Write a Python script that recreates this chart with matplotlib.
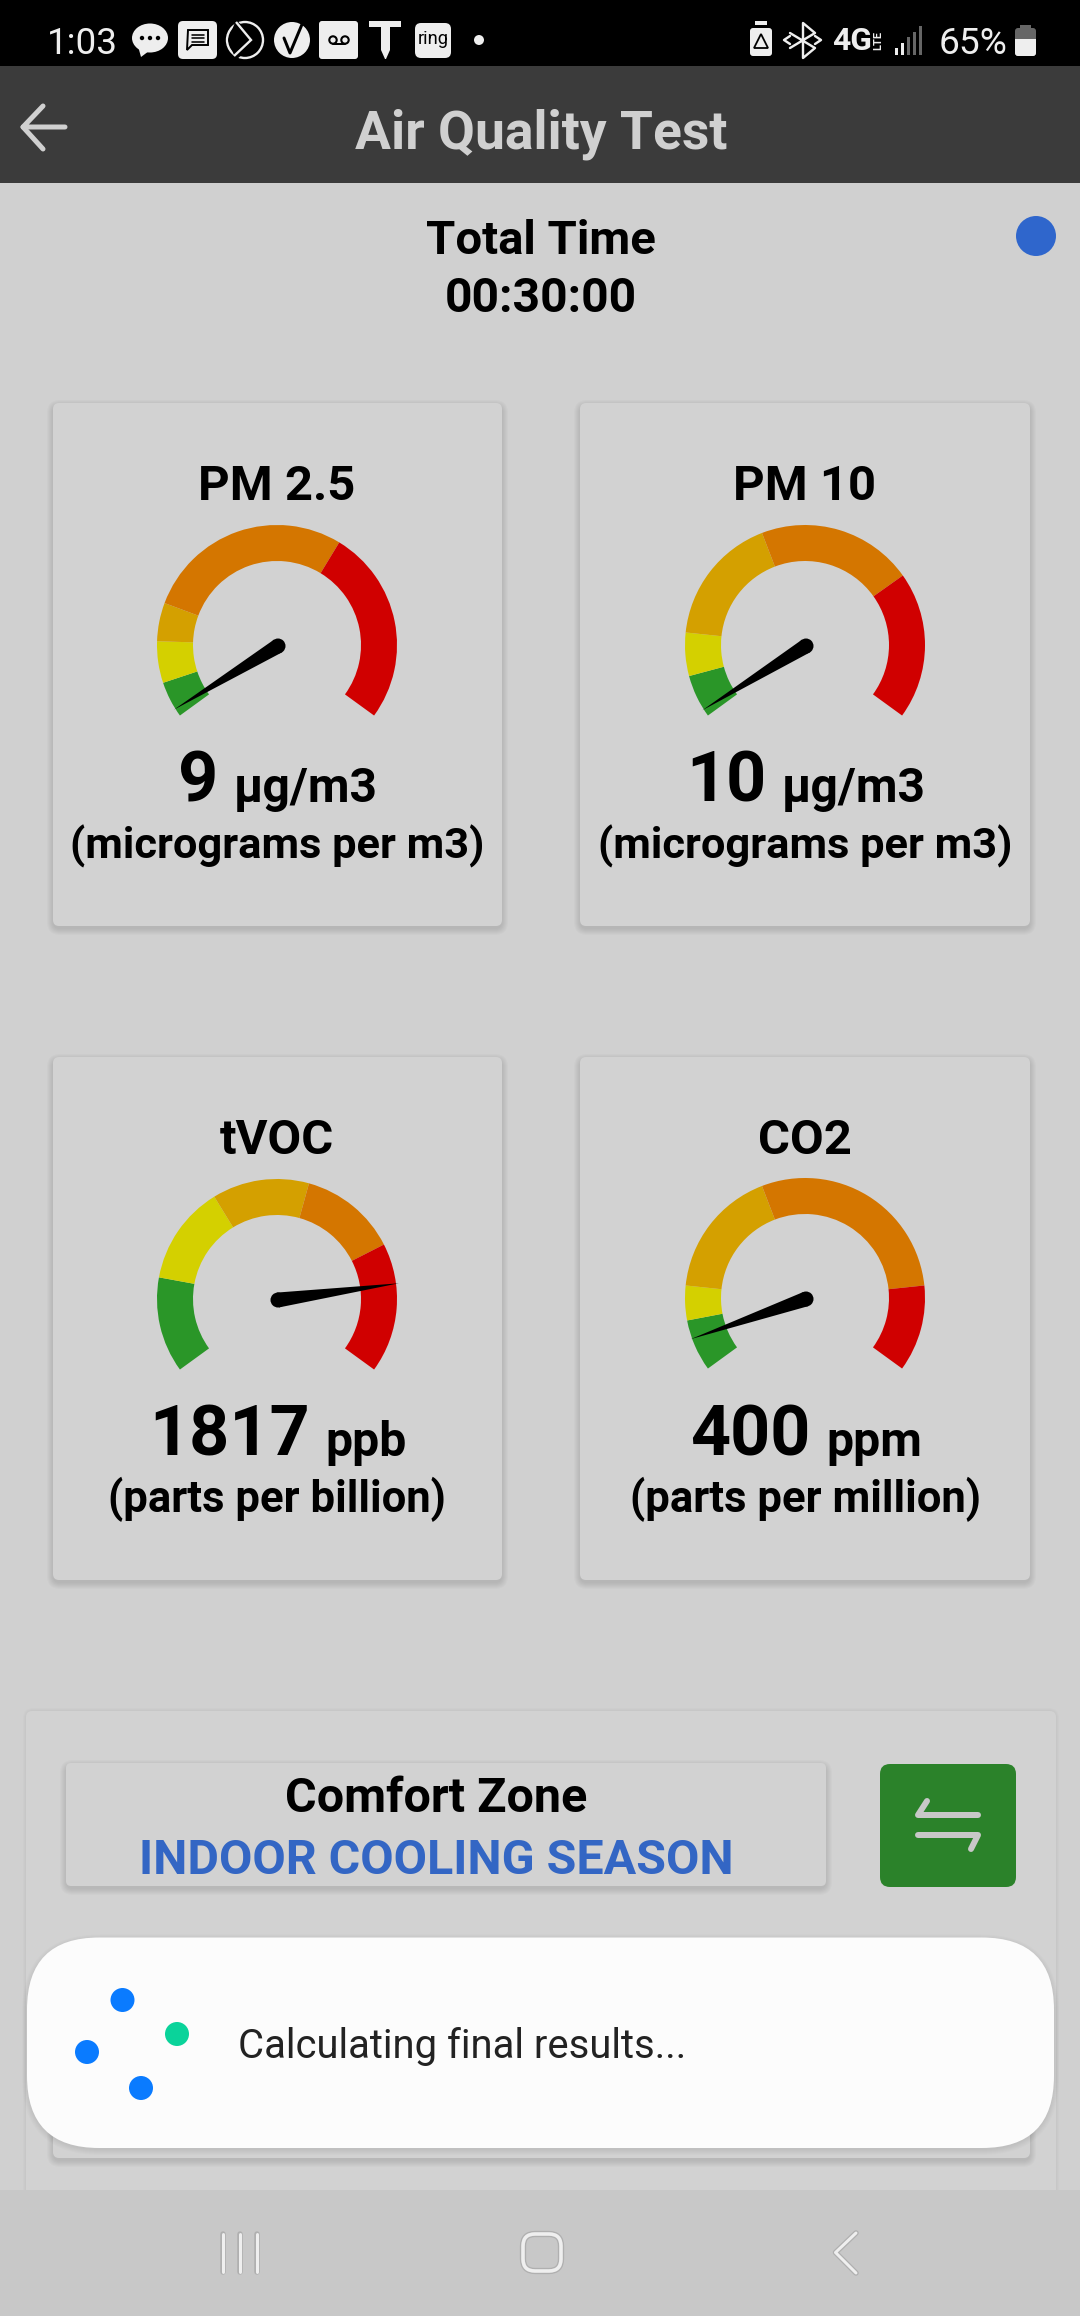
import numpy as np
import matplotlib
matplotlib.use("Agg")
import matplotlib.pyplot as plt
from matplotlib.patches import Wedge, Circle, Polygon, FancyBboxPatch, Rectangle, Ellipse

# ---------- data ----------
gauge_names = ["PM 2.5", "PM 10", "tVOC", "CO2"]
gauge_readings = [9, 10, 1817, 400]
gauge_units = ["µg/m3", "µg/m3", "ppb", "ppm"]
gauge_unit_names = ["(micrograms per m3)", "(micrograms per m3)",
                    "(parts per billion)", "(parts per million)"]
gauge_limits = [
    [35, 75, 112, 312, 500],
    [50, 100, 250, 430, 600],
    [405, 825, 1235, 1650, 2200],
    [600, 1000, 2500, 5000, 6000],
]
band_colors = ["#2A9628", "#D4D000", "#D4A000", "#D47600", "#D00000"]
title_text = "Air Quality Test"
timer_label = "Total Time"
timer_value = "00:30:00"
zone_label = "Comfort Zone"
zone_value = "INDOOR COOLING SEASON"
toast_text = "Calculating final results..."
clock_text = "1:03"
battery_text = "65%"

W, H = 1080, 2316
BG = "#D0D0D0"
CARD = "#D2D2D2"
FONT = "Roboto"

fig = plt.figure(figsize=(W / 100, H / 100), dpi=100, facecolor=BG)
ax = fig.add_axes([0, 0, 1, 1])
ax.set_xlim(0, W)
ax.set_ylim(0, H)
ax.axis("off")
renderer = fig.canvas.get_renderer()


def Y(py):
    return H - py


def box(x0, y0, x1, y1, color, radius=6, z=2, ec="none", lw=0):
    p = FancyBboxPatch((x0, Y(y1)), x1 - x0, y1 - y0,
                       boxstyle=f"round,pad=0,rounding_size={radius}",
                       fc=color, ec=ec, lw=lw, zorder=z)
    ax.add_patch(p)
    return p


def shadow(x0, y0, x1, y1, radius=6, z=1.5, dy=3, spread=7, alpha=0.014):
    for i in range(spread, 0, -1):
        p = box(x0 - i + 1, y0 - i + 1 + dy, x1 + i - 1, y1 + i - 1 + dy, "black", radius + i, z)
        p.set_alpha(alpha)


def text(x, y, s, px, color="black", weight="bold", ha="center", width=None, **kw):
    t = ax.text(x, Y(y), s, fontsize=px * 0.72, color=color, ha=ha, va="baseline",
                family=FONT, fontweight=weight, zorder=kw.pop("zorder", 6), **kw)
    if width is not None:
        cur = t.get_window_extent(renderer).width
        t.set_fontsize(t.get_fontsize() * width / cur)
    return t


def stroke(xs, ys, color, lw_px, z=6):
    ax.plot(xs, [Y(v) for v in ys], color=color, lw=lw_px * 0.72,
            solid_capstyle="round", solid_joinstyle="round", zorder=z)


def gauge(cx, cy, limits, reading):
    top = limits[-1]
    angle = lambda v: 216 - 252 * v / top
    lo = 0
    for hi, col in zip(limits, band_colors):
        ax.add_patch(Wedge((cx, Y(cy)), 120, angle(hi), angle(lo), width=36,
                           fc=col, ec="none", zorder=3))
        lo = hi
    a = np.deg2rad(angle(reading))
    r_tip, r_head = 122, 7.5
    ux, uy = np.cos(a), np.sin(a)
    px_, py_ = -uy, ux
    c = np.array([cx + 1, Y(cy + 1)])
    tip = c + r_tip * np.array([ux, uy])
    ax.add_patch(Polygon([c + r_head * np.array([px_, py_]), tip,
                          c - r_head * np.array([px_, py_])],
                         closed=True, fc="black", ec="none", zorder=4))
    ax.add_patch(Circle(c, r_head, fc="black", ec="none", zorder=4))


# ---------- chrome ----------
ax.add_patch(Rectangle((0, Y(66)), W, 66, fc="black", ec="none", zorder=8))
ax.add_patch(Rectangle((0, Y(183)), W, 117, fc="#3B3B3B", ec="none", zorder=8))
text(541, 148, title_text, 54, color="#D0D0D0", weight="bold", width=372, zorder=9)
stroke([65, 23, 43], [127, 127, 106], "#D0D0D0", 5, z=9)
stroke([23, 43], [127, 149], "#D0D0D0", 5, z=9)

text(540.5, 254, timer_label, 48, width=230)
text(540.5, 312, timer_value, 46, width=192)
ax.add_patch(Circle((1036, Y(236)), 20, fc="#2F66CC", ec="none", zorder=6))

# ---------- cards ----------
card_boxes = [(53, 403, 502, 926), (580, 403, 1030, 926),
              (53, 1057, 502, 1580), (580, 1057, 1030, 1580)]
centers = [(277, 645), (805, 645), (277, 1299), (805, 1298)]
sub_widths = [414, 414, 338, 351]
for (x0, y0, x1, y1), (cx, cy), name, val, unit, uname, lim, sw in zip(
        card_boxes, centers, gauge_names, gauge_readings, gauge_units,
        gauge_unit_names, gauge_limits, sub_widths):
    shadow(x0, y0, x1, y1)
    box(x0, y0, x1, y1, CARD, 6)
    text(cx, y0 + 97, name, 49)
    gauge(cx, cy, lim, val)
    base = y0 + 399
    big = text(0, base, str(val), 70, ha="left")
    small = text(0, base, unit, 48, ha="left", weight="bold")
    w1 = big.get_window_extent(renderer).width
    w2 = small.get_window_extent(renderer).width
    gap = 16
    left = cx + 1 - (w1 + gap + w2) / 2
    big.set_x(left)
    small.set_x(left + w1 + gap)
    text(cx, y0 + 455, uname, 44, weight="bold", width=sw)

# ---------- comfort zone ----------
shadow(26, 1711, 1056, 2300, radius=6, spread=4, dy=0, alpha=0.01)
box(26, 1711, 1056, 2300, CARD, 6)
shadow(66, 1763, 826, 1886, z=2.5)
box(66, 1763, 826, 1886, CARD, 5, z=3)
text(436.5, 1812.5, zone_label, 46, width=302)
text(436, 1873.5, zone_value, 46, color="#3366C4", width=595)
box(880, 1764, 1016, 1887, "#2B822A", 10, z=3)
stroke([927, 918, 978], [1801, 1815, 1815], "#C8C8C8", 6)
stroke([918, 978, 971], [1835, 1835, 1849], "#C8C8C8", 6)

shadow(53, 2000, 1030, 2158, z=2.5)
box(53, 2000, 1030, 2158, CARD, 6, z=3)

# ---------- toast ----------
shadow(27, 1937.5, 1054, 2148, radius=72, z=6.5, dy=2, spread=6, alpha=0.012)
box(27, 1937.5, 1054, 2148, "#FCFCFC", 72, z=7)
for (dx, dy), col in zip([(122.5, 2000), (177, 2034), (87, 2052), (141, 2088)],
                         ["#0A7BFF", "#0AD39A", "#0A7BFF", "#0A7BFF"]):
    ax.add_patch(Circle((dx, Y(dy)), 12, fc=col, ec="none", zorder=8))
text(238, 2058, toast_text, 40, color="#222222", weight="normal", ha="left", width=449, zorder=8)

# ---------- nav bar ----------
ax.add_patch(Rectangle((0, 0), W, H - 2190, fc="#C8C8C8", ec="none", zorder=9))
NAV = "#EFEFEF"
for x in (222.5, 239.5, 256.5):
    stroke([x, x], [2234, 2272], "#B0B0B0", 5.5, z=10)
    stroke([x, x], [2234, 2272], NAV, 3, z=10)
box(523, 2234, 561, 2271, "none", 12, z=10, ec="#B0B0B0", lw=4.5)
box(523, 2234, 561, 2271, "none", 12, z=10, ec=NAV, lw=2.6)
stroke([856, 835.5, 856], [2233, 2252.5, 2273], "#B0B0B0", 5.5, z=10)
stroke([856, 835.5, 856], [2233, 2252.5, 2273], NAV, 3, z=10)

# ---------- status bar ----------
IC = "#EEEEEE"
Z = 10
text(47, 54, clock_text, 38, color=IC, weight="normal", ha="left", width=71, zorder=Z)
# speech bubble
ax.add_patch(Ellipse((150, Y(38)), 36, 29, fc=IC, ec="none", zorder=Z))
ax.add_patch(Polygon([(138, Y(46)), (149, Y(51)), (141, Y(57))], fc=IC, ec="none", zorder=Z))
for x in (142, 150, 158):
    ax.add_patch(Circle((x, Y(38)), 2.2, fc="black", ec="none", zorder=Z + 1))
# message
box(178, 21, 217, 59, IC, 5, z=Z)
ax.add_patch(Polygon([(188, Y(30)), (208, Y(30)), (208, Y(45)), (192, Y(45)), (187, Y(50))],
                     fc="none", ec="black", lw=1.4, zorder=Z + 1))
for y in (34.5, 38, 41.5):
    stroke([192, 204], [y, y], "black", 1.6, z=Z + 1)
# chevron circle
ax.add_patch(Circle((245, Y(40)), 18, fc="none", ec=IC, lw=1.7, zorder=Z))
ax.add_patch(Polygon([(236, Y(20)), (259, Y(40)), (236, Y(60)), (228, Y(40))], fc="black", ec="none", zorder=Z))
ax.add_patch(Polygon([(236, Y(22)), (251, Y(40)), (234, Y(56))], fc="none", ec=IC, lw=1.7, closed=False, zorder=Z))
# check circle
ax.add_patch(Circle((292, Y(40)), 18, fc=IC, ec="none", zorder=Z))
stroke([284, 290, 303], [38, 53, 22], "black", 3, z=Z + 1)
# voicemail
box(319, 21, 358, 59, IC, 3, z=Z)
for x in (333, 345):
    ax.add_patch(Circle((x, Y(40)), 3.7, fc="none", ec="black", lw=1.5, zorder=Z + 1))
stroke([333, 345], [43.7, 43.7], "black", 2, z=Z + 1)
# T
ax.add_patch(Polygon([(369, Y(21)), (401, Y(21)), (401, Y(27)), (390, Y(27)), (390, Y(50)),
                      (386, Y(59)), (385, Y(59)), (381, Y(50)), (381, Y(27)), (369, Y(27))],
                     fc=IC, ec="none", zorder=Z))
# ring
box(415, 23, 451, 58, IC, 6, z=Z)
text(433, 44, "ring", 20, color="black", weight="normal", width=31, zorder=Z + 1)
ax.add_patch(Circle((479, Y(40)), 5, fc=IC, ec="none", zorder=Z))
# recycle battery
box(750, 28, 772, 56, IC, 3, z=Z)
ax.add_patch(Rectangle((755, Y(25)), 12, 4, fc=IC, ec="none", zorder=Z))
ax.add_patch(Polygon([(761, Y(34)), (768, Y(48)), (754, Y(48))], fc="none", ec="black", lw=1.3, zorder=Z + 1))
# bluetooth
stroke([790, 815, 803, 803, 815, 790], [33, 48, 58, 23, 33, 48], IC, 2.4, z=Z)
stroke([790, 784, 790], [36, 40, 44], IC, 2.4, z=Z)
stroke([815, 821, 815], [36, 40, 44], IC, 2.4, z=Z)
# network
text(832, 50, "4G", 26, color=IC, weight="bold", ha="left", width=40, zorder=Z)
text(881, 50, "LTE", 11, color=IC, weight="bold", ha="left", rotation=90, rotation_mode="anchor", zorder=Z)
signal_tops = [48, 43, 37, 32, 26]
signal_cols = [IC, IC, "#666666", "#666666", "#666666"]
for x, top, col in zip((896, 902, 908, 914, 920), signal_tops, signal_cols):
    ax.add_patch(Rectangle((x - 1.5, Y(55)), 3, 55 - top, fc=col, ec="none", zorder=Z))
text(939, 54, battery_text, 38, color=IC, weight="normal", ha="left", width=69, zorder=Z)
ax.add_patch(Rectangle((1020, Y(28)), 11, 3, fc="#666666", ec="none", zorder=Z))
box(1015, 28, 1036, 56, "#666666", 3, z=Z)
box(1015, 39, 1036, 56, IC, 3, z=Z + 1)
ax.add_patch(Rectangle((1015, Y(42)), 21, 3, fc=IC, ec="none", zorder=Z + 1))

fig.savefig("out.png", dpi=100, facecolor=BG)
